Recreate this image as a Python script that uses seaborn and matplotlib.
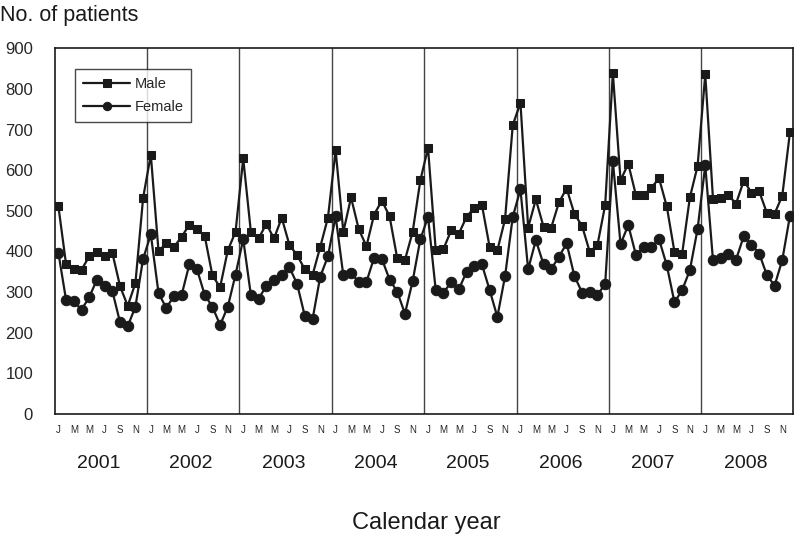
import numpy as np
import pandas as pd
import matplotlib
matplotlib.use('Agg')
import matplotlib.pyplot as plt
import matplotlib.transforms as mtransforms
import seaborn as sns

years = ['2001', '2002', '2003', '2004', '2005', '2006', '2007', '2008']
month_labels = ['J', '', 'M', '', 'M', '', 'J', '', 'S', '', 'N', '']

# monthly counts, Jan 2001 .. Dec 2008
male = [511, 368, 357, 355, 388, 399, 388, 397, 315, 266, 322, 532,
        638, 401, 420, 411, 436, 466, 455, 438, 341, 312, 403, 448,
        629, 447, 432, 468, 432, 483, 416, 391, 356, 342, 411, 483,
        649, 448, 533, 455, 413, 491, 525, 487, 383, 379, 448, 575,
        655, 403, 406, 452, 444, 485, 508, 514, 411, 403, 479, 711,
        766, 459, 528, 461, 459, 521, 555, 493, 463, 399, 416, 514,
        839, 575, 616, 538, 538, 557, 580, 511, 399, 395, 533, 610,
        836, 530, 532, 538, 518, 574, 545, 548, 495, 493, 537, 694]
female = [397, 280, 277, 257, 287, 331, 315, 303, 226, 216, 264, 382,
          442, 298, 261, 290, 293, 368, 356, 293, 264, 219, 264, 343,
          430, 292, 284, 315, 331, 342, 361, 320, 241, 233, 338, 388,
          487, 341, 347, 325, 325, 385, 382, 331, 301, 247, 327, 430,
          485, 305, 299, 324, 307, 350, 365, 368, 305, 239, 339, 485,
          553, 356, 428, 368, 357, 387, 420, 340, 299, 301, 293, 320,
          622, 418, 465, 391, 411, 410, 430, 366, 275, 305, 354, 455,
          612, 379, 383, 393, 380, 438, 417, 395, 342, 316, 379, 488]

n = len(male)
df = pd.DataFrame({
    'month': list(range(n)) * 2,
    'patients': male + female,
    'sex': ['Male'] * n + ['Female'] * n,
})

sns.set_style('white')
plt.rcParams['font.family'] = ['Liberation Sans', 'DejaVu Sans']

fig = plt.figure(figsize=(7.96, 5.4), dpi=100)
ax = fig.add_axes([0.0695, 0.2333, 0.9268, 0.6772])

sns.lineplot(data=df, x='month', y='patients', hue='sex', style='sex',
             markers={'Male': 's', 'Female': 'o'}, dashes=False,
             palette={'Male': '#1a1a1a', 'Female': '#1a1a1a'},
             markersize=6, markeredgecolor='#1a1a1a', linewidth=1.6,
             ax=ax)
for line in ax.lines:
    if line.get_marker() == 's':
        line.set_markersize(5.5)
    elif line.get_marker() == 'o':
        line.set_markersize(7.5)

# year separators
for k in range(1, len(years)):
    ax.axvline(12 * k - 0.5, color='#444444', lw=1.0, zorder=0)

ax.set_xlim(-0.4, 95.4)
ax.set_ylim(0, 900)
ax.set_yticks(range(0, 901, 100))
ax.tick_params(axis='y', direction='in', length=5, width=1, pad=16, labelsize=12)

ticks = [i for i in range(n) if month_labels[i % 12]]
ax.set_xticks(ticks)
ax.set_xticklabels([month_labels[i % 12] for i in ticks], fontsize=7)
ax.tick_params(axis='x', length=0, pad=8)

trans = mtransforms.blended_transform_factory(ax.transData, ax.transAxes)
for k, yr in enumerate(years):
    ax.text(12 * k + 5.2, -0.135, yr, transform=trans, ha='center', va='center',
            fontsize=14, color='#1a1a1a')

ax.set_xlabel('')
ax.set_ylabel('')
fig.text(0.535, 0.031, 'Calendar year', ha='center', va='center', fontsize=17,
         color='#1a1a1a')
fig.text(0.0, 0.972, 'No. of patients', ha='left', va='center', fontsize=15.5,
         color='#1a1a1a')

for s in ax.spines.values():
    s.set_color('#1a1a1a')
    s.set_linewidth(1.2)

leg = ax.legend(handles=ax.get_legend().legend_handles, labels=['Male', 'Female'],
                loc='upper left', bbox_to_anchor=(0.027, 0.943), frameon=True,
                fancybox=False, edgecolor='#1a1a1a', fontsize=10.5,
                handlelength=3.2, borderpad=0.55, labelspacing=0.6,
                handletextpad=0.3, borderaxespad=0)
leg.get_frame().set_linewidth(1.0)
for h in leg.legend_handles:
    h.set_color('#1a1a1a')

fig.savefig('out.png', dpi=100)
